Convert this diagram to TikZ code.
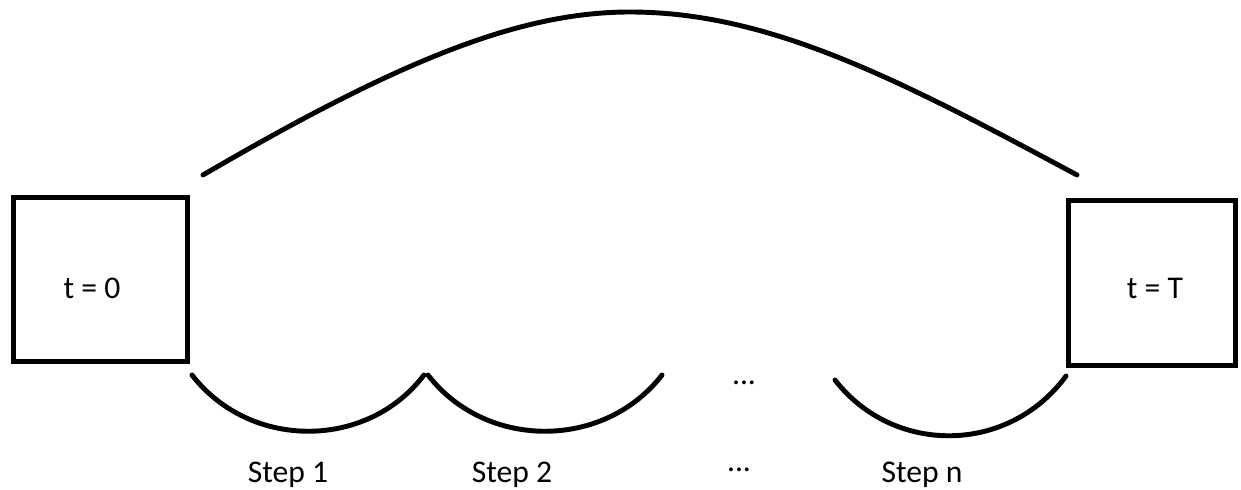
\documentclass[tikz,border=0pt]{standalone}
\usepackage{fontspec}
\setmainfont{Carlito}
\usepackage{tikz}
\usetikzlibrary{positioning}
\tikzset{
    every picture/.style={line cap=round,line join=round},
    statebox/.style={draw=black,line width=3.1pt,line cap=butt,line join=miter,
      minimum width=3.47cm,minimum height=3.27cm,inner sep=0pt,outer sep=0pt},
    pathcurve/.style={draw=black,line width=2.8pt},
    steplabel/.style={inner sep=0pt,anchor=base}
}

\begin{document}
\begin{tikzpicture}[x=0.02cm,y=-0.02cm,font=\fontsize{18}{22}\selectfont]
  \useasboundingbox (0,0) rectangle (1241,490);
  \node[statebox] (tzero) at (100.5,279.5) {};
  \node[statebox,minimum width=3.35cm,minimum height=3.29cm] (tend) at (1152,283) {};
  \node (tzerotxt) at (92,288) {t = 0};
  \node (tendtxt) at (1155,288) {t = T};
  \coordinate (a0) at (203,175);
  \coordinate (a1) at (1077,175);
  \coordinate (s0) at (192,375);
  \coordinate (s1) at (424,375);
  \coordinate (s2) at (428,375);
  \coordinate (s3) at (662,375);
  \coordinate (s4) at (835,380);
  \coordinate (s5) at (1066,376);
  \draw[pathcurve] (a0) .. controls (400,60) and (520,12) .. (630,12)
    .. controls (770,12) and (900,80) .. (a1);
  \draw[pathcurve] (s0) .. controls (250,450) and (367,450) .. (s1);
  \draw[pathcurve] (s2) .. controls (486,450) and (604,450) .. (s3);
  \draw[pathcurve] (s4) .. controls (893,455) and (1008,455) .. (s5);
  \node[steplabel] (dotsa) at (744,384) {...};
  \node[steplabel] (lbl1) at (288,482) {Step 1};
  \node[steplabel] (lbl2) at (512,482) {Step 2};
  \node[steplabel] (dotsb) at (739,471) {...};
  \node[steplabel] (lbln) at (922,482) {Step n};
\end{tikzpicture}
\end{document}
